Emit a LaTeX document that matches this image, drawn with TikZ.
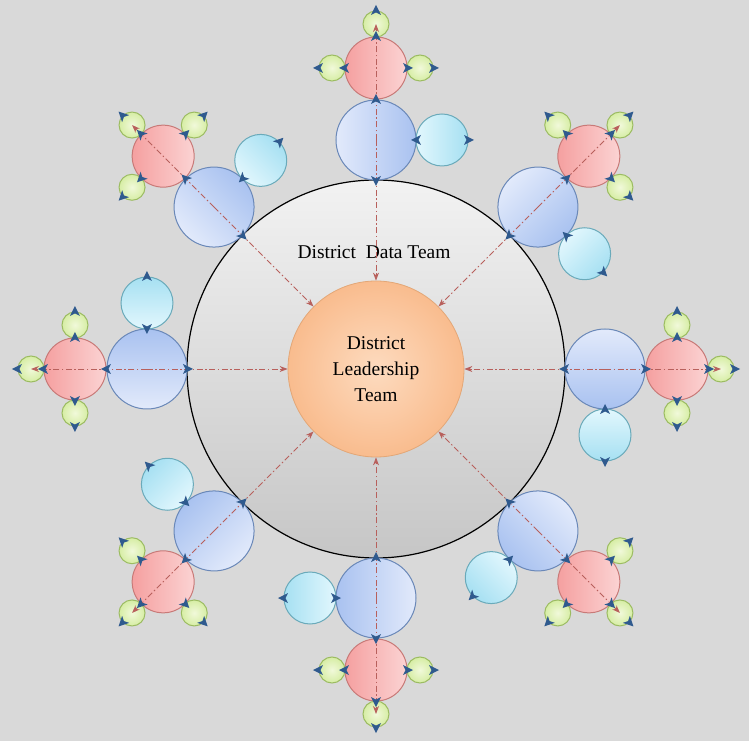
\documentclass[tikz,border=0pt]{standalone}
\usepackage{fontspec}
\setmainfont{Liberation Serif}
\usetikzlibrary{arrows.meta,calc}
\definecolor{paper}{HTML}{D9D9D9}
\definecolor{ringlt}{HTML}{F2F2F2}
\definecolor{ringdk}{HTML}{C6C6C6}
\definecolor{leadlt}{HTML}{FDDBBF}
\definecolor{leaddk}{HTML}{F9BC8E}
\definecolor{leadline}{HTML}{E3A777}
\definecolor{bluelt}{HTML}{E2EAFB}
\definecolor{bluedk}{HTML}{A9C2F0}
\definecolor{blueline}{HTML}{6A88B8}
\definecolor{redlt}{HTML}{FBD3D3}
\definecolor{reddk}{HTML}{F5A0A0}
\definecolor{redline}{HTML}{C87A78}
\definecolor{cyanlt}{HTML}{E2F7FD}
\definecolor{cyandk}{HTML}{A6E0F2}
\definecolor{cyanline}{HTML}{6AAABA}
\definecolor{greenlt}{HTML}{F1F9DA}
\definecolor{greendk}{HTML}{D6EDA4}
\definecolor{greenline}{HTML}{9CBC62}
\definecolor{markblue}{HTML}{2F5A8E}
\definecolor{spokered}{HTML}{B8605C}

\tikzset{
  ring/.style={circle,draw=black,line width=1.2pt,minimum size=378pt,inner sep=0pt,
    top color=ringlt,bottom color=ringdk},
  leadc/.style={circle,draw=leadline,line width=0.8pt,minimum size=176pt,inner sep=0pt,
    inner color=leadlt,outer color=leaddk,align=center},
  bluec/.style={circle,draw=blueline,line width=1pt,minimum size=80pt,inner sep=0pt,
    top color=bluelt,bottom color=bluedk},
  redc/.style={circle,draw=redline,line width=1pt,minimum size=62pt,inner sep=0pt,
    left color=reddk,right color=redlt},
  cyanc/.style={circle,draw=cyanline,line width=1pt,minimum size=52pt,inner sep=0pt,
    top color=cyanlt,bottom color=cyandk},
  greenc/.style={circle,draw=greenline,line width=1pt,minimum size=26pt,inner sep=0pt,
    inner color=greenlt,outer color=greendk},
  spoke/.style={spokered,line width=0.9pt,dash pattern=on 6pt off 2.5pt on 1.5pt off 2.5pt,
    -{Stealth[length=8pt,width=6pt]}},
  tag/.style={font=\fontsize{19.5}{26}\selectfont},
  mk/.pic={\fill[markblue] (5.5,0) -- (-4.5,5) -- (-2,0) -- (-4.5,-5) -- cycle;}
}

\begin{document}
\begin{tikzpicture}[x=1pt,y=1pt]
  \useasboundingbox (-376,-372) rectangle (373,369);
  \fill[paper] (-376,-372) rectangle (373,369);

  % outer team and leadership
  \node[ring] (data) at (0,0) {};
  \node[tag] (dataname) at (-2,117) {District\ \ Data Team};
  \node[leadc,tag] (lead) at (0,0) {District\\Leadership\\Team};

  % eight groups round the ring
  \foreach \a [count=\i,
      evaluate=\a as \b using {int(mod(\a+180,360))},
      evaluate=\a as \l using {int(mod(\a+90,360))},
      evaluate=\a as \r using {int(mod(\a+270,360))}] in {0,45,...,315} {
    \node[bluec,shading angle=\a] (blue\i) at (\a:229) {};
    \node[redc] (red\i) at (\a:301) {};
    \node[greenc] (go\i) at (\a:345) {};
    \node[greenc] (gl\i) at ($(red\i)+(\l:44)$) {};
    \node[greenc] (gr\i) at ($(red\i)+(\r:44)$) {};
    \node[cyanc,shading angle=\a] (cy\i) at ($(blue\i)+(\r:66)$) {};

    \draw[spoke] (blue\i.center) -- (lead);
    \draw[spoke] (blue\i.center) -- (go\i.center);

    % markers
    \pic[rotate=\b] at (blue\i.\b) {mk};
    \pic[rotate=\a] at (blue\i.\a) {mk};
    \pic[rotate=\a] at (red\i.\a) {mk};
    \pic[rotate=\a] at (go\i.\a) {mk};
    \pic[rotate=\l] at (red\i.\l) {mk};
    \pic[rotate=\l] at (gl\i.\l) {mk};
    \pic[rotate=\r] at (red\i.\r) {mk};
    \pic[rotate=\r] at (gr\i.\r) {mk};
    \pic[rotate=\l] at (blue\i.\r) {mk};
    \pic[rotate=\r] at (cy\i.\r) {mk};
  }
\end{tikzpicture}
\end{document}
